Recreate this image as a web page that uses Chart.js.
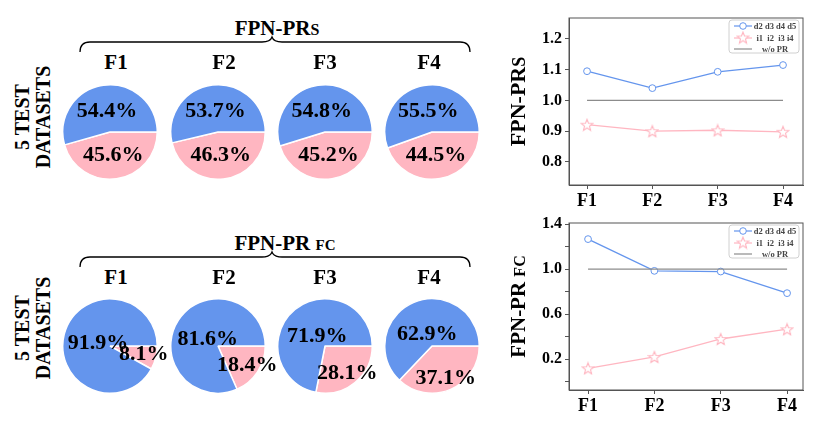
<!DOCTYPE html>
<html>
<head>
<meta charset="utf-8">
<script src="https://cdn.jsdelivr.net/npm/chart.js@4.4.0/dist/chart.umd.min.js"></script>
<style>
  body { margin: 0; background: #fff; }
  #wrap { position: relative; width: 830px; height: 429px; overflow: hidden;
          font-family: "Liberation Serif", "Times New Roman", serif; font-weight: bold; color: #000; }
  .pie { position: absolute; }
  .lbl { position: absolute; transform: translate(-50%, -50%); font-size: 21px; white-space: nowrap; }
  .side { position: absolute; transform: translate(-50%, -50%) rotate(-90deg); font-size: 20px;
          line-height: 21px; text-align: center; white-space: nowrap; }
  .small { font-size: 15px; }
  canvas.abs { position: absolute; }
  svg { position: absolute; left: 0; top: 0; }
</style>
</head>
<body>
<div id="wrap">
  <svg width="830" height="429">
    <path d="M80,52 C80,45 83,42 90,42 L262,42 C268,42 271,40 272,37 C273,40 276,42 282,42 L460,42 C467,42 470,45 470,52" fill="none" stroke="#000" stroke-width="1.3"/>
    <path d="M80,52 C80,45 83,42 90,42 L262,42 C268,42 271,40 272,37 C273,40 276,42 282,42 L460,42 C467,42 470,45 470,52" fill="none" stroke="#000" stroke-width="1.3" transform="translate(0,215)"/>
  </svg>

  <div class="lbl" style="left:277px; top:28px;">FPN-PR<span class="small" style="font-size:16px">S</span></div>
  <div class="lbl" style="left:285px; top:243px;">FPN-PR <span class="small">FC</span></div>

  <div class="side" style="left:33px; top:117px;">5 TEST<br>DATASETS</div>
  <div class="side" style="left:33px; top:328px;">5 TEST<br>DATASETS</div>

  <canvas id="lineTop" class="abs" width="330" height="215" style="left:500px; top:0px;"></canvas>
  <canvas id="lineBot" class="abs" width="330" height="224" style="left:500px; top:205px;"></canvas>
</div>

<script>
// fold names / pie percentages
const folds = ['F1', 'F2', 'F3', 'F4'];
const prsBlue = [54.4, 53.7, 54.8, 55.5];
const prsPink = [45.6, 46.3, 45.2, 44.5];
const fcBlue = [91.9, 81.6, 71.9, 62.9];
const fcPink = [8.1, 18.4, 28.1, 37.1];

// line chart values
const prsLineD = [1.095, 1.040, 1.093, 1.115];
const prsLineI = [0.921, 0.900, 0.903, 0.898];
const prsBase = [1.0, 1.0, 1.0, 1.0];
const fcLineD = [1.267, 0.985, 0.979, 0.787];
const fcLineI = [0.120, 0.221, 0.380, 0.467];
const fcBase = [1.0, 1.0, 1.0, 1.0];

// tick values and labels
const prsTicks = [0.8, 0.9, 1.0, 1.1, 1.2];
const prsTickLabels = ['0.8', '0.9', '1.0', '1.1', '1.2'];
const fcTicks = [0.0, 0.2, 0.4, 0.6, 0.8, 1.0, 1.2, 1.4];
const fcTickLabels = ['', '0.2', '', '0.6', '', '1.0', '', '1.4'];
const legendLabels = ['d2 d3 d4 d5', 'i1  i2  i3 i4', 'w/o PR'];

const BLUE = '#6495ED';
const PINK = '#FFB6C1';
const GRAY = '#8c8c8c';
const FONT = '"Liberation Serif", "Times New Roman", serif';

const wrap = document.getElementById('wrap');

// percent labels inside pie slices
const pctLabels = {
    id: 'pctLabels',
    afterDatasetsDraw(chart, args, opts) {
        const ctx = chart.ctx;
        const meta = chart.getDatasetMeta(0);
        const vals = chart.data.datasets[0].data;
        ctx.save();
        ctx.font = 'bold 22px ' + FONT;
        ctx.fillStyle = '#000';
        ctx.textAlign = 'center';
        ctx.textBaseline = 'middle';
        meta.data.forEach((arc, i) => {
            const p = arc.getProps(['x', 'y', 'startAngle', 'endAngle', 'outerRadius'], true);
            const mid = (p.startAngle + p.endAngle) / 2;
            const r = p.outerRadius * opts.dist[i];
            ctx.fillText(vals[i].toFixed(1) + '%', p.x + Math.cos(mid) * r, p.y + Math.sin(mid) * r);
        });
        ctx.restore();
    }
};

function makePie(cx, cy, blue, pink, dist) {
    const c = document.createElement('canvas');
    c.className = 'pie';
    c.width = 170; c.height = 96;
    c.style.left = (cx - 85) + 'px';
    c.style.top = (cy - 48) + 'px';
    wrap.appendChild(c);
    new Chart(c, {
        type: 'pie',
        data: {
            labels: ['i', 'd'],
            datasets: [{
                data: [pink, blue],
                backgroundColor: [PINK, BLUE],
                borderColor: '#fff',
                borderWidth: 1.5
            }]
        },
        options: {
            responsive: false,
            animation: false,
            rotation: 90,
            plugins: { legend: { display: false }, tooltip: { enabled: false }, pctLabels: { dist: dist } }
        },
        plugins: [pctLabels]
    });
}

const pieX = [110, 218, 325, 432];
const headX = [116, 224, 325, 429];
folds.forEach((f, i) => {
    makePie(pieX[i], 132, prsBlue[i], prsPink[i], [0.5, 0.45]);
    makePie(pieX[i], 346, fcBlue[i], fcPink[i], [0.74, 0.26]);
    [62, 277].forEach(y => {
        const d = document.createElement('div');
        d.className = 'lbl';
        d.style.left = headX[i] + 'px';
        d.style.top = y + 'px';
        d.textContent = f;
        wrap.appendChild(d);
    });
});

// hollow five-point star marker
function starImg(color) {
    const c = document.createElement('canvas');
    c.width = 14; c.height = 14;
    const g = c.getContext('2d');
    g.beginPath();
    for (let k = 0; k < 10; k++) {
        const r = k % 2 === 0 ? 6 : 2.6;
        const a = -Math.PI / 2 + k * Math.PI / 5;
        const px = 7 + Math.cos(a) * r, py = 7.6 + Math.sin(a) * r;
        if (k === 0) g.moveTo(px, py); else g.lineTo(px, py);
    }
    g.closePath();
    g.fillStyle = '#fff';
    g.fill();
    g.strokeStyle = color;
    g.lineWidth = 1.1;
    g.stroke();
    return c;
}
const star = starImg(PINK);

// box around plot area
const frame = {
    id: 'frame',
    afterDraw(chart) {
        const a = chart.chartArea, ctx = chart.ctx;
        ctx.save();
        ctx.strokeStyle = '#555';
        ctx.lineWidth = 1;
        ctx.strokeRect(a.left, a.top, a.right - a.left, a.bottom - a.top);
        ctx.restore();
    }
};

// rotated y title with a smaller suffix
const yTitle = {
    id: 'yTitle',
    afterDraw(chart, args, opts) {
        const ctx = chart.ctx;
        const cy = (chart.chartArea.top + chart.chartArea.bottom) / 2;
        ctx.save();
        ctx.translate(opts.x, cy);
        ctx.rotate(-Math.PI / 2);
        let total = 0;
        opts.parts.forEach(p => {
            ctx.font = 'bold ' + p.size + 'px ' + FONT;
            p.w = ctx.measureText(p.text).width;
            total += p.w;
        });
        let x = -total / 2;
        ctx.fillStyle = '#000';
        ctx.textBaseline = 'alphabetic';
        opts.parts.forEach(p => {
            ctx.font = 'bold ' + p.size + 'px ' + FONT;
            ctx.fillText(p.text, x, 7);
            x += p.w;
        });
        ctx.restore();
    }
};

// legend box in upper right of the plot
const boxLegend = {
    id: 'boxLegend',
    afterDraw(chart) {
        const a = chart.chartArea, ctx = chart.ctx;
        const w = 70, h = 33;
        const bx = a.right - 4 - w, by = a.top + 2;
        ctx.save();
        ctx.beginPath();
        ctx.roundRect(bx, by, w, h, 3);
        ctx.fillStyle = 'rgba(255,255,255,0.85)';
        ctx.fill();
        ctx.strokeStyle = '#d0d0d0';
        ctx.lineWidth = 1;
        ctx.stroke();
        const rows = [6, 18, 29];
        const colors = [BLUE, PINK, GRAY];
        ctx.font = 'bold 8.5px ' + FONT;
        ctx.textAlign = 'center';
        ctx.textBaseline = 'middle';
        rows.forEach((ry, i) => {
            const y = by + ry;
            ctx.strokeStyle = colors[i];
            ctx.lineWidth = 1.2;
            ctx.beginPath();
            ctx.moveTo(bx + 5, y);
            ctx.lineTo(bx + 23, y);
            ctx.stroke();
            if (i === 0) {
                ctx.beginPath();
                ctx.arc(bx + 14, y, 3.3, 0, Math.PI * 2);
                ctx.fillStyle = '#fff';
                ctx.fill();
                ctx.lineWidth = 1;
                ctx.stroke();
            } else if (i === 1) {
                ctx.drawImage(star, bx + 7, y - 7.5);
            }
            ctx.fillStyle = '#444';
            ctx.fillText(legendLabels[i], bx + 46, y + 0.5);
        });
        ctx.restore();
    }
};

function makeLine(id, dSeries, iSeries, base, yMin, yMax, ticks, tickLabels, xMin, xMax, xHeight, titleParts) {
    const pts = s => s.map((v, i) => ({ x: i, y: v }));
    new Chart(document.getElementById(id), {
        type: 'line',
        data: {
            datasets: [
                { data: pts(base), borderColor: GRAY, borderWidth: 1.2, pointRadius: 0 },
                { data: pts(iSeries), borderColor: PINK, borderWidth: 1.3, pointStyle: star, pointRadius: 7 },
                { data: pts(dSeries), borderColor: BLUE, borderWidth: 1.3, pointStyle: 'circle', pointRadius: 3.4,
                  pointBackgroundColor: '#fff', pointBorderColor: BLUE, pointBorderWidth: 1 }
            ]
        },
        options: {
            responsive: false,
            animation: false,
            layout: { padding: { top: 18, right: 27, left: 0, bottom: 0 } },
            plugins: { legend: { display: false }, tooltip: { enabled: false }, yTitle: { x: 18, parts: titleParts } },
            scales: {
                x: {
                    type: 'linear', min: xMin, max: xMax,
                    afterBuildTicks: axis => { axis.ticks = folds.map((f, i) => ({ value: i })); },
                    afterFit: axis => { axis.height = xHeight; },
                    ticks: { callback: v => folds[v], color: '#000', padding: 2,
                             font: { family: FONT, size: 18, weight: 'bold' } },
                    grid: { drawOnChartArea: false, tickLength: 4, color: '#555' },
                    border: { color: '#555' }
                },
                y: {
                    min: yMin, max: yMax,
                    afterBuildTicks: axis => { axis.ticks = ticks.map(v => ({ value: v })); },
                    afterFit: axis => { axis.width = 69; },
                    ticks: { callback: (v, i) => tickLabels[i], color: '#000', padding: 3,
                             font: { family: FONT, size: 16, weight: 'bold' } },
                    grid: { drawOnChartArea: false, tickLength: 4, color: '#555' },
                    border: { color: '#555' }
                }
            }
        },
        plugins: [frame, yTitle, boxLegend]
    });
}

makeLine('lineTop', prsLineD, prsLineI, prsBase, 0.725, 1.268, prsTicks, prsTickLabels,
         -0.276, 3.306, 30, [{ text: 'FPN-PR', size: 22 }, { text: 'S', size: 18 }]);
makeLine('lineBot', fcLineD, fcLineI, fcBase, -0.073, 1.41, fcTicks, fcTickLabels,
         -0.287, 3.24, 39, [{ text: 'FPN-PR ', size: 21 }, { text: 'FC', size: 16 }]);
</script>
</body>
</html>
